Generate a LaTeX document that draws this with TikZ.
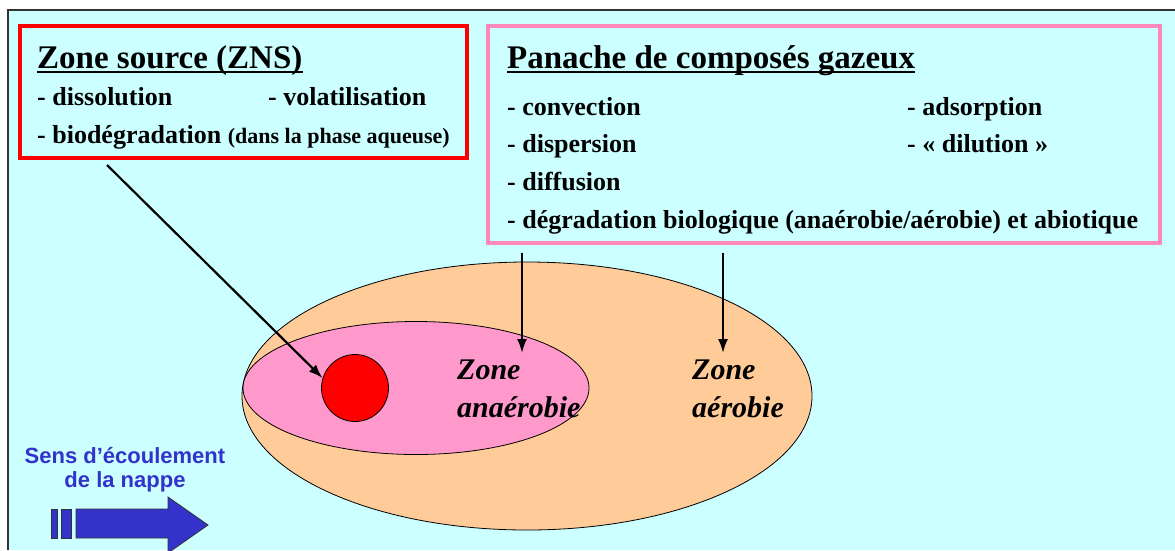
\documentclass[tikz,border=0pt]{standalone}
\usepackage{fontspec}
\setmainfont{Liberation Serif}
\newfontfamily\arialfont{Liberation Sans}
\usetikzlibrary{positioning,shapes.geometric,arrows.meta}

\definecolor{fondbleu}{HTML}{CCFFFF}
\definecolor{rosecadre}{HTML}{FF88BB}
\definecolor{roseanaer}{HTML}{FF99CC}
\definecolor{orangeaer}{HTML}{FFCC99}
\definecolor{bleusens}{HTML}{3333CC}

\begin{document}
\begin{tikzpicture}[x=1pt,y=-1pt,
  cadre/.style={draw,line width=4pt,inner sep=0pt},
  item/.style={anchor=base west,inner sep=0pt,font=\fontsize{26}{30}\selectfont\bfseries},
  titre/.style={anchor=base west,inner sep=0pt,font=\fontsize{33}{38}\selectfont\bfseries},
  souligne/.style={line width=2pt},
  zonetxt/.style={anchor=north west,inner sep=0pt,align=left,font=\fontsize{30}{38}\selectfont\bfseries\itshape},
  zone/.style={ellipse,draw=black,line width=.8pt,inner sep=0pt},
  fleche/.style={-{Latex[length=14pt,width=10pt]},line width=2.2pt}]
\useasboundingbox (0,0) rectangle (1175,550);
\fill[fondbleu] (8,10) rectangle (1175,550);
\draw[line width=1.2pt,black!80] (1175,10) -- (8,10) -- (8,550);

% cadres du haut
\node[cadre,draw=red,minimum width=447pt,minimum height=132pt] (zns) at (243.5,92) {};
\node[cadre,draw=rosecadre,minimum width=672pt,minimum height=217pt] (panache) at (824,134.5) {};

\node[titre] (znstitre) at (37,68) {Zone source (ZNS)};
\draw[souligne] ([yshift=-4pt]znstitre.base west) -- ([yshift=-4pt]znstitre.base east);
\node[item] (dissol) at (37,105) {- dissolution};
\node[item] (volat) at (268,105) {- volatilisation};
\node[item] (biodeg) at (37,143) {- biodégradation {\fontsize{22}{26}\selectfont(dans la phase aqueuse)}};

\node[titre] (pantitre) at (507,68) {Panache de composés gazeux};
\draw[souligne] ([yshift=-4pt]pantitre.base west) -- ([yshift=-4pt]pantitre.base east);
\node[item] (convec) at (507,115) {- convection};
\node[item] (adsorp) at (907,115) {- adsorption};
\node[item] (dispers) at (507,152) {- dispersion};
\node[item] (dilut) at (907,152) {- « dilution »};
\node[item] (diffus) at (507,190) {- diffusion};
\node[item] (degrad) at (507,228) {- dégradation biologique (anaérobie/aérobie) et abiotique};

% zones du panache
\node[zone,fill=orangeaer,minimum width=570pt,minimum height=268pt] (aerobie) at (527,396) {};
\node[zone,fill=roseanaer,minimum width=346pt,minimum height=133pt] (anaerobie) at (416,388) {};
\node[circle,draw=black,line width=.8pt,fill=red,minimum size=67pt,inner sep=0pt] (source) at (355,388) {};

\node[zonetxt] (txtanaer) at (457,360) {Zone\\anaérobie};
\node[zonetxt] (txtaer) at (692,360) {Zone\\aérobie};

% fleches
\coordinate (depzns) at (107,165);
\coordinate (dep1) at (522,253);
\coordinate (arr1) at (522,353);
\coordinate (dep2) at (723,253);
\coordinate (arr2) at (723,353);
\draw[fleche] (depzns) -- (source.163);
\draw[fleche] (dep1) -- (arr1);
\draw[fleche] (dep2) -- (arr2);

% sens d'ecoulement
\node[font=\arialfont\bfseries\fontsize{22}{24}\selectfont,text=bleusens,align=center] (sens) at (125,470) {Sens d’écoulement\\de la nappe};
\draw[fill=bleusens,draw=black!80,line width=.8pt] (51,509) rectangle (57,538);
\draw[fill=bleusens,draw=black!80,line width=.8pt] (61,509) rectangle (71,538);
\draw[fill=bleusens,draw=black!80,line width=.8pt] (76,509) -- (168,509) -- (168,497) -- (208,525) -- (168,553) -- (168,538) -- (76,538) -- cycle;
\end{tikzpicture}
\end{document}
